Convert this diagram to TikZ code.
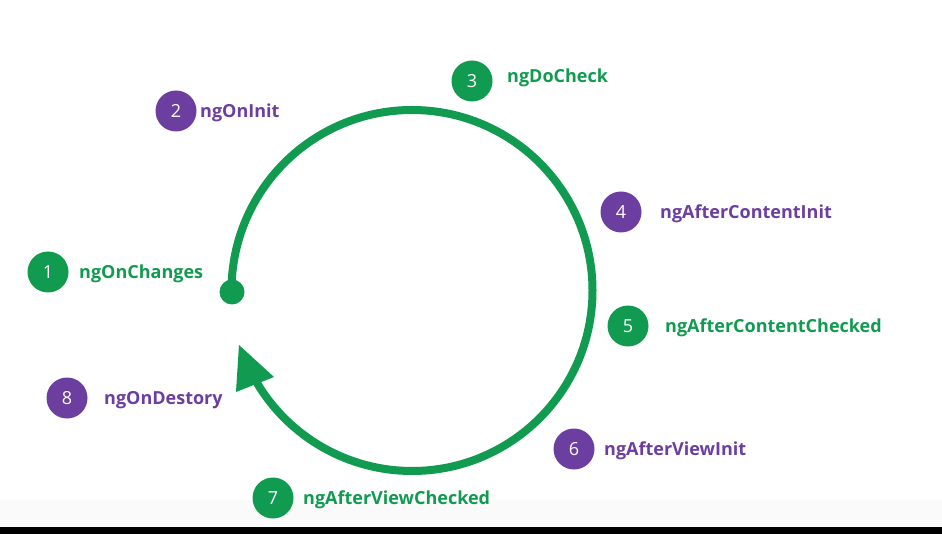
\documentclass[tikz,border=0pt]{standalone}
\usepackage{fontspec}
\setmainfont{Open Sans}
\definecolor{lgreen}{RGB}{16,155,80}
\definecolor{lpurple}{RGB}{108,62,160}
\tikzset{
  numdot/.style={circle, minimum size=41pt, inner sep=0pt, text=white,
    font=\fontsize{18}{20}\selectfont},
  gdot/.style={numdot, fill=lgreen},
  pdot/.style={numdot, fill=lpurple},
  lbl/.style={anchor=base west, inner sep=0pt, font=\bfseries\fontsize{18}{20}\selectfont},
  glbl/.style={lbl, text=lgreen},
  plbl/.style={lbl, text=lpurple},
  ring/.style={draw=lgreen, line width=8pt}
}
\begin{document}
\begin{tikzpicture}[x=1pt,y=-1pt]
\useasboundingbox (0,0) rectangle (942,534);
\fill[white] (0,0) rectangle (942,534);
\fill[black!2] (0,500) rectangle (942,527);
\fill[black] (0,527) rectangle (942,534);
% lifecycle ring
\coordinate (ctr) at (412,290.5);
\draw[ring] (231.5,290.5) arc[start angle=180, end angle=509.2, radius=180.5];
\node[circle, fill=lgreen, minimum size=25pt, inner sep=0pt] (start) at (232,292) {};
\fill[lgreen] (239,345) -- (236,392) -- (274,377) -- cycle;
% hooks
\node[gdot] (c1) at (48,272) {1};
\node[glbl] (t1) at (79,278.5) {ngOnChanges};
\node[pdot] (c2) at (176,111) {2};
\node[plbl] (t2) at (200,117.5) {ngOnInit};
\node[gdot] (c3) at (472,81) {3};
\node[glbl] (t3) at (507,82.5) {ngDoCheck};
\node[pdot] (c4) at (621,212) {4};
\node[plbl] (t4) at (660,218.5) {ngAfterContentInit};
\node[gdot] (c5) at (628,326) {5};
\node[glbl] (t5) at (665,333) {ngAfterContentChecked};
\node[pdot] (c6) at (574,449) {6};
\node[plbl] (t6) at (604,455.5) {ngAfterViewInit};
\node[gdot] (c7) at (273,498) {7};
\node[glbl] (t7) at (303,504.5) {ngAfterViewChecked};
\node[pdot] (c8) at (67,398) {8};
\node[plbl] (t8) at (104,404.5) {ngOnDestory};
\end{tikzpicture}
\end{document}
